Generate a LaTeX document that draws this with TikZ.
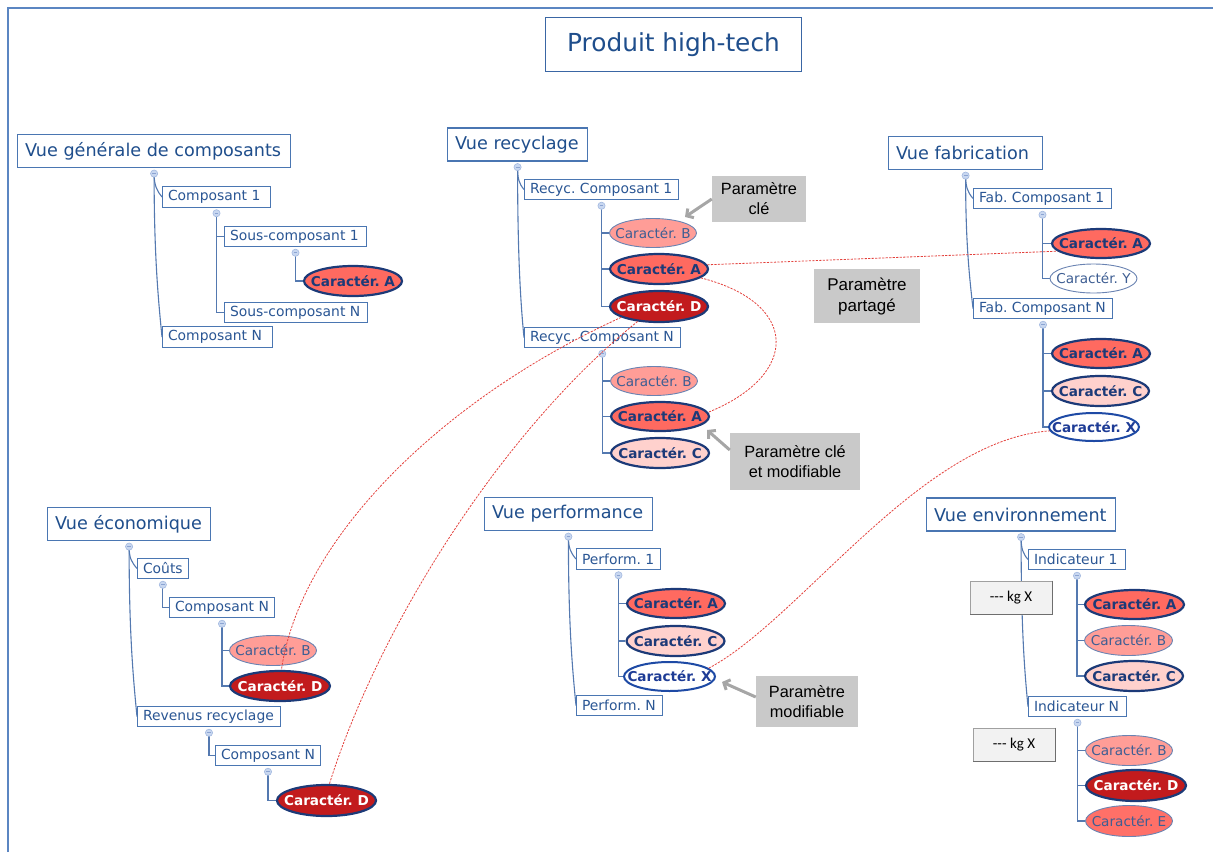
\documentclass[tikz,border=0pt]{standalone}
\usepackage{fontspec}
\setmainfont{DejaVu Sans}
\newfontfamily\arialf{Liberation Sans}
\newfontfamily\calibf{Carlito}
\usetikzlibrary{shapes.geometric,arrows.meta}
\pgfdeclarelayer{bg}
\pgfsetlayers{bg,main}
\frenchspacing
\definecolor{framec}{HTML}{5B86C2}
\definecolor{boxb}{HTML}{4A76B2}
\definecolor{titleb}{HTML}{3A66A4}
\definecolor{txtb}{HTML}{1F4E8C}
\definecolor{subt}{HTML}{2A5694}
\definecolor{treeb}{HTML}{5479B0}
\definecolor{navy}{HTML}{1C3A78}
\definecolor{redA}{HTML}{FF6A60}
\definecolor{redB}{HTML}{FF9D97}
\definecolor{redC}{HTML}{FFD1CD}
\definecolor{redD}{HTML}{C21B1D}
\definecolor{redE}{HTML}{FF7068}
\definecolor{thinb}{HTML}{6A83B2}
\definecolor{thint}{HTML}{3E5E93}
\definecolor{xblue}{HTML}{1E4AA5}
\definecolor{xtext}{HTML}{1E3C96}
\definecolor{btnf}{HTML}{C8D7F0}
\definecolor{btnd}{HTML}{A3B9E0}
\definecolor{btnm}{HTML}{8CA4D2}
\definecolor{grayf}{HTML}{C9C9C9}
\definecolor{arrg}{HTML}{A6A6A6}
\definecolor{dred}{HTML}{E3413C}
\definecolor{kgf}{HTML}{F2F2F2}
\definecolor{kgd}{HTML}{A0A0A0}
\definecolor{kgs}{HTML}{6E6E6E}
\newcommand{\ctx}[1]{\makebox[0pt]{#1}}
\newcommand{\lft}[2]{\makebox[#1pt][l]{#2}}
\tikzset{
 framel/.style={draw=framec, line width=1.5pt},
 titlebox/.style={draw=titleb, line width=1.2pt, fill=white, text=txtb, font=\fontsize{24.8}{29}\selectfont, minimum width=256pt, minimum height=54pt, inner sep=0pt},
 hdr/.style={draw=boxb, line width=1.2pt, fill=white, text=txtb, font=\fontsize{17.6}{20}\selectfont, inner xsep=7.5pt, inner ysep=0pt, minimum height=33pt, anchor=west},
 sub/.style={draw=boxb, line width=1pt, fill=white, text=subt, font=\fontsize{13.9}{16}\selectfont, inner xsep=5.5pt, inner ysep=0pt, minimum height=20.5pt, anchor=west},
 car/.style={ellipse, inner sep=0pt, minimum width=98pt, minimum height=30pt, font=\fontsize{13.6}{16}\selectfont\bfseries},
 cA/.style={car, fill=redA, draw=navy, line width=2.2pt, text=navy},
 cC/.style={car, fill=redC, draw=navy, line width=2.2pt, text=navy},
 cD/.style={car, fill=redD, draw=navy, line width=2.2pt, text=white},
 cX/.style={car, fill=white, draw=xblue, line width=2pt, text=xtext, minimum width=91pt},
 cthin/.style={ellipse, inner sep=0pt, minimum width=87pt, minimum height=29pt, font=\fontsize{13.6}{16}\selectfont, draw=thinb, line width=0.9pt, text=thint},
 cB/.style={cthin, fill=redB},
 cY/.style={cthin, fill=white},
 cE/.style={cthin, fill=redE},
 btn/.style={circle, fill=btnf, draw=btnd, line width=0.6pt, minimum size=7.2pt, inner sep=0pt},
 btnminus/.style={draw=btnm, line width=0.7pt},
 tree/.style={draw=treeb, line width=1.1pt},
 rdash/.style={draw=dred, line width=0.8pt, dash pattern=on 2.2pt off 1.3pt},
 gbox/.style={fill=grayf, text=black, font=\arialf\fontsize{16.3}{20}\selectfont, align=center, inner sep=0pt},
 garrow/.style={draw=arrg, line width=3pt, -{Straight Barb[length=5pt,width=11pt]}},
 kgbox/.style={fill=kgf, draw=kgd, line width=0.8pt, font=\calibf\fontsize{15}{17}\selectfont, text=black, inner sep=0pt, minimum width=82pt, minimum height=33pt},
 kgshadow/.style={draw=kgs, line width=1.6pt},
}
\newcommand{\mkbtn}[2]{\node[btn] (#1) at ([yshift=-5.5pt]#2.south) {};
 \draw[btnminus] ([xshift=-1.9pt]#1.center) -- ([xshift=1.9pt]#1.center);}
\begin{document}
\begin{tikzpicture}[x=1pt,y=-1pt]
\useasboundingbox (0,0) rectangle (1213,852);
\draw[framel] (8,852) -- (8,8) -- (1213,8);
\node[titlebox] (title) at (673.5,44.5) {Produit high-tech};

% ---------- Vue générale
\node[hdr] (hdrG) at (17,151) {\lft{258}{Vue générale de composants}};
\mkbtn{bG0}{hdrG}
\node[sub] (gC1) at (162,197) {\lft{97}{Composant 1}};
\mkbtn{bG1}{gC1}
\node[sub] (gS1) at (224,236.5) {\lft{131}{Sous-composant 1}};
\mkbtn{bG2}{gS1}
\node[cA] (gA) at (353,281) {\ctx{Caractér. A}};
\node[sub] (gSN) at (224,312.5) {\lft{132}{Sous-composant N}};
\node[sub] (gCN) at (162,337) {\lft{99}{Composant N}};

% ---------- Vue recyclage
\node[hdr] (hdrR) at (447,144.5) {\lft{125}{Vue recyclage}};
\mkbtn{bR0}{hdrR}
\node[sub] (rC1) at (524,189.5) {\lft{143}{Recyc. Composant 1}};
\mkbtn{bR1}{rC1}
\node[cB] (rB1) at (653,233) {\ctx{Caractér. B}};
\node[cA] (rA1) at (659,269) {\ctx{Caractér. A}};
\node[cD, minimum height=31pt] (rD1) at (659,306.5) {\ctx{Caractér. D}};
\node[sub] (rCN) at (524,337.5) {\lft{144.5}{Recyc. Composant N}};
\mkbtn{bR2}{rCN}
\node[cB] (rB2) at (654,381) {\ctx{Caractér. B}};
\node[cA, minimum height=29pt] (rA2) at (660,416.5) {\ctx{Caractér. A}};
\node[cC] (rC2) at (660,453) {\ctx{Caractér. C}};

% ---------- Vue fabrication
\node[hdr] (hdrF) at (888,153) {\lft{139}{Vue fabrication}};
\mkbtn{bF0}{hdrF}
\node[sub] (fC1) at (973,198.5) {\lft{127}{Fab. Composant 1}};
\mkbtn{bF1}{fC1}
\node[cA, minimum height=29pt] (fA1) at (1101,243.5) {\ctx{Caractér. A}};
\node[cY] (fY) at (1093.5,278.5) {\ctx{Caractér. Y}};
\node[sub] (fCN) at (973,308.5) {\lft{128}{Fab. Composant N}};
\mkbtn{bF2}{fCN}
\node[cA, minimum height=29pt] (fA2) at (1101,353.5) {\ctx{Caractér. A}};
\node[cC, minimum width=97pt] (fC) at (1100.5,391) {\ctx{Caractér. C}};
\node[cX, minimum width=90pt, minimum height=28pt] (fX) at (1094,427) {\ctx{Caractér. X}};

% ---------- Vue économique
\node[hdr] (hdrEc) at (47,524) {\lft{148}{Vue économique}};
\mkbtn{bEc0}{hdrEc}
\node[sub] (ecCo) at (137,568.5) {\lft{39.7}{Coûts}};
\mkbtn{bEc1}{ecCo}
\node[sub] (ecCN1) at (169,607.5) {\lft{94}{Composant N}};
\mkbtn{bEc2}{ecCN1}
\node[cB, minimum height=30pt] (ecB) at (273,650.5) {\ctx{Caractér. B}};
\node[cD, minimum width=100pt] (ecD1) at (280,686) {\ctx{Caractér. D}};
\node[sub] (ecRR) at (137,716.5) {\lft{132}{Revenus recyclage}};
\mkbtn{bEc3}{ecRR}
\node[sub] (ecCN2) at (215,755.5) {\lft{94}{Composant N}};
\mkbtn{bEc4}{ecCN2}
\node[cD, minimum width=99pt, minimum height=31pt] (ecD2) at (326.5,800.5) {\ctx{Caractér. D}};

% ---------- Vue performance
\node[hdr] (hdrP) at (484,514) {\lft{152.6}{Vue performance}};
\mkbtn{bP0}{hdrP}
\node[sub] (pP1) at (576,559) {\lft{73}{Perform. 1}};
\mkbtn{bP1}{pP1}
\node[cA, minimum height=29pt] (pA) at (676,603.5) {\ctx{Caractér. A}};
\node[cC] (pC) at (675.5,641) {\ctx{Caractér. C}};
\node[cX, minimum height=29pt] (pX) at (669.5,676.5) {\ctx{Caractér. X}};
\node[sub] (pPN) at (576,705.5) {\lft{74.5}{Perform. N}};

% ---------- Vue environnement
\node[hdr] (hdrE) at (926,514.5) {\lft{174}{Vue environnement}};
\mkbtn{bE0}{hdrE}
\node[sub] (eI1) at (1028,559.5) {\lft{86}{Indicateur 1}};
\mkbtn{bE1}{eI1}
\node[cA, minimum width=99pt, minimum height=29pt] (eA) at (1134.5,604.5) {\ctx{Caractér. A}};
\node[cB, minimum width=88pt, minimum height=30pt] (eB1) at (1128.5,640.5) {\ctx{Caractér. B}};
\node[cC] (eC) at (1134,676) {\ctx{Caractér. C}};
\node[sub] (eIN) at (1028,706.5) {\lft{87}{Indicateur N}};
\mkbtn{bE2}{eIN}
\node[cB, minimum height=30pt] (eB2) at (1129,750.5) {\ctx{Caractér. B}};
\node[cD, minimum width=100pt, minimum height=31pt] (eD) at (1136,785.5) {\ctx{Caractér. D}};
\node[cE, minimum height=31pt] (eE) at (1129,821) {\ctx{Caractér. E}};

% ---------- tree connectors (behind)
\begin{pgfonlayer}{bg}
\draw[tree] (bG0.center) .. controls +(0,12) and +(-5,-6) .. (gC1.west);
\draw[tree] (bG0.center) .. controls +(0,80) and +(-4,-40) .. (gCN.west);
\draw[tree] (bG1.center) |- (gS1.west);
\draw[tree] (bG1.center) |- (gSN.west);
\draw[tree] (bG2.center) |- (gA.west);

\draw[tree] (bR0.center) .. controls +(0,12) and +(-5,-6) .. (rC1.west);
\draw[tree] (bR0.center) .. controls +(0,80) and +(-4,-40) .. (rCN.west);
\draw[tree] (bR1.center) |- (rB1.west);
\draw[tree] (bR1.center) |- (rA1.west);
\draw[tree] (bR1.center) |- (rD1.west);
\draw[tree] (bR2.center) |- (rB2.west);
\draw[tree] (bR2.center) |- (rA2.west);
\draw[tree] (bR2.center) |- (rC2.west);

\draw[tree] (bF0.center) .. controls +(0,12) and +(-5,-6) .. (fC1.west);
\draw[tree] (bF0.center) .. controls +(0,65) and +(-4,-35) .. (fCN.west);
\draw[tree] (bF1.center) |- (fA1.west);
\draw[tree] (bF1.center) |- (fY.west);
\draw[tree] (bF2.center) |- (fA2.west);
\draw[tree] (bF2.center) |- (fC.west);
\draw[tree] (bF2.center) |- (fX.west);

\draw[tree] (bEc0.center) .. controls +(0,12) and +(-5,-6) .. (ecCo.west);
\draw[tree] (bEc0.center) .. controls +(0,85) and +(-4,-40) .. (ecRR.west);
\draw[tree] (bEc1.center) |- (ecCN1.west);
\draw[tree] (bEc2.center) |- (ecB.west);
\draw[tree] (bEc2.center) |- (ecD1.west);
\draw[tree] (bEc3.center) |- (ecCN2.west);
\draw[tree] (bEc4.center) |- (ecD2.west);

\draw[tree] (bP0.center) .. controls +(0,12) and +(-5,-6) .. (pP1.west);
\draw[tree] (bP0.center) .. controls +(0,85) and +(-4,-40) .. (pPN.west);
\draw[tree] (bP1.center) |- (pA.west);
\draw[tree] (bP1.center) |- (pC.west);
\draw[tree] (bP1.center) |- (pX.west);

\draw[tree] (bE0.center) .. controls +(0,12) and +(-5,-6) .. (eI1.west);
\draw[tree] (bE0.center) .. controls +(0,85) and +(-4,-40) .. (eIN.west);
\draw[tree] (bE1.center) |- (eA.west);
\draw[tree] (bE1.center) |- (eB1.west);
\draw[tree] (bE1.center) |- (eC.west);
\draw[tree] (bE2.center) |- (eB2.west);
\draw[tree] (bE2.center) |- (eD.west);
\draw[tree] (bE2.center) |- (eE.west);
\end{pgfonlayer}

% ---------- kg boxes
\node[kgbox] (kg1) at (1011,597.5) {-{}-{}- kg X};
\draw[kgshadow] (kg1.north east) -- (kg1.south east) -- (kg1.south west);
\node[kgbox] (kg2) at (1014,744.5) {-{}-{}- kg X};
\draw[kgshadow] (kg2.north east) -- (kg2.south east) -- (kg2.south west);

% ---------- annotation boxes
\node[gbox, minimum width=94pt, minimum height=46pt] (gk1) at (759,199) {Paramètre\\clé};
\node[gbox, minimum width=130pt, minimum height=57pt] (gk2) at (795,461.5) {Paramètre clé\\et modifiable};
\node[gbox, minimum width=106pt, minimum height=54pt, font=\arialf\fontsize{17}{21}\selectfont] (gk3) at (867,296) {Paramètre\\partagé};
\node[gbox, minimum width=102pt, minimum height=51pt] (gk4) at (807,701.5) {Paramètre\\modifiable};
\coordinate (t1) at (685,217);
\coordinate (t2) at (707,430);
\coordinate (t4) at (722,682);
\draw[garrow] (gk1.west) -- (t1);
\draw[garrow] (gk2.170) -- (t2);
\draw[garrow] (gk4.175) -- (t4);

% ---------- shared-parameter links
\draw[rdash] (rA1.5) -- (fA1.190);
\draw[rdash] (rA1.-12) .. controls (800,303) and (800,375) .. (rA2.5);
\draw[rdash] (rD1.196) .. controls (440,400) and (300,540) .. (ecD1.85);
\draw[rdash] (rD1.215) .. controls (505,428) and (380,623) .. (ecD2.80);
\draw[rdash] (pX.12) .. controls (800,620) and (920,440) .. (fX.185);
\end{tikzpicture}
\end{document}
